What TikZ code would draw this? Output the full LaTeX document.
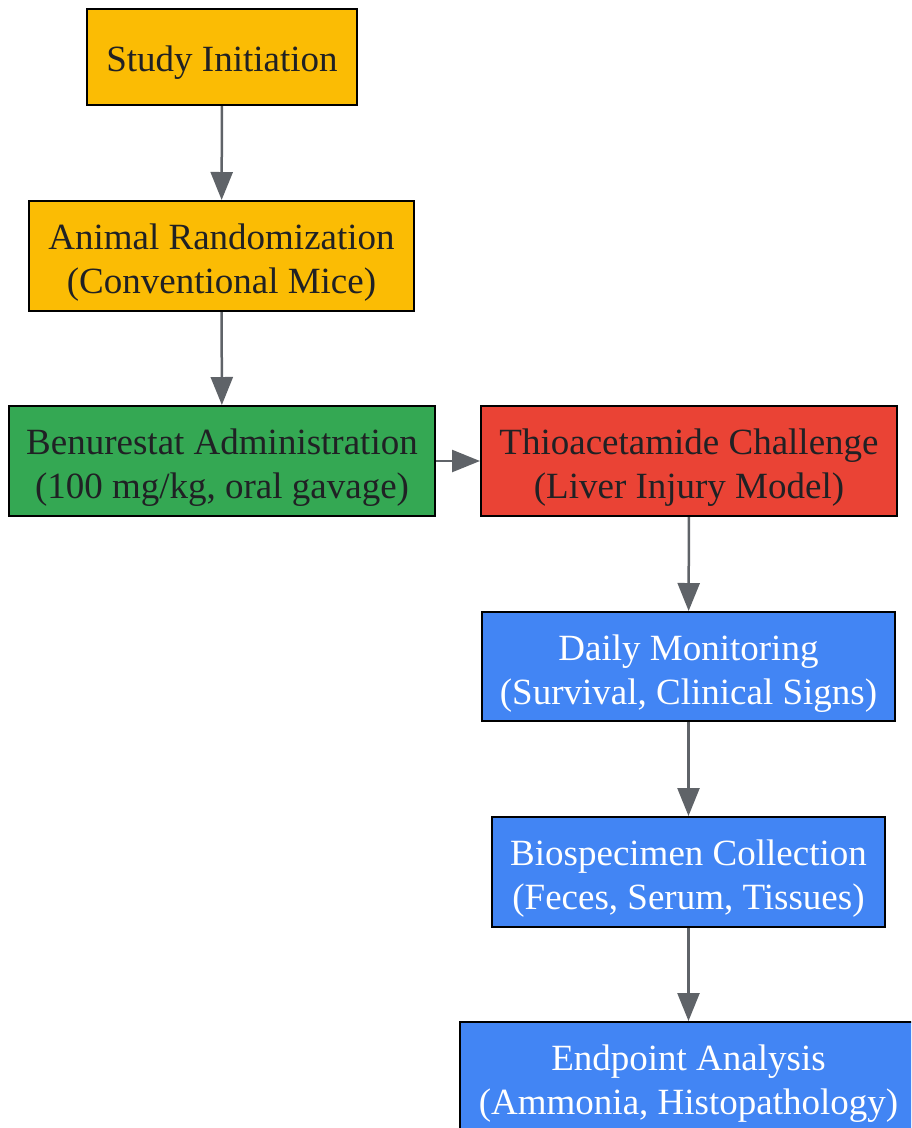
\documentclass[tikz,border=0pt]{standalone}
\usepackage{fontspec}
\setmainfont{Liberation Serif}
\usetikzlibrary{arrows.meta}
\definecolor{stepyellow}{HTML}{FBBC04}
\definecolor{stepgreen}{HTML}{34A853}
\definecolor{stepred}{HTML}{EA4335}
\definecolor{stepblue}{HTML}{4285F4}
\definecolor{textdark}{HTML}{202124}
\definecolor{arrowgray}{HTML}{5F6368}
% two centred lines, first one pushed a bit lower
\newcommand{\steptext}[2]{\begin{tabular}{@{}c@{}}\rule{0pt}{45pt}#1\\#2\end{tabular}}
\tikzset{
  box/.style={draw=black, line width=2pt, inner sep=0pt,
    font=\fontsize{37}{44}\selectfont, text=textdark},
  onebox/.style={box, execute at begin node={\rule{0pt}{36pt}},
    execute at end node={\rule[-8pt]{0pt}{8pt}}},
  twobox/.style={box, minimum height=110pt},
  flow/.style={draw=arrowgray, line width=2.5pt,
    -{Triangle[length=28pt,width=22pt]}}
}

\begin{document}
\begin{tikzpicture}[x=1pt,y=-1pt]
\useasboundingbox (0,0) rectangle (911,1128);
\clip (0,0) rectangle (911,1128);
\node[onebox, fill=stepyellow, minimum width=270pt, minimum height=96pt] (init) at (222,57) {Study Initiation};
\node[twobox, fill=stepyellow, minimum width=385pt] (random) at (221.5,256) {\steptext{Animal Randomization}{(Conventional Mice)}};
\node[twobox, fill=stepgreen, minimum width=426pt] (drug) at (222,461) {\steptext{Benurestat Administration}{(100 mg/kg, oral gavage)}};
\node[twobox, fill=stepred, minimum width=416pt] (taa) at (689,461) {\steptext{Thioacetamide Challenge}{(Liver Injury Model)}};
\node[twobox, fill=stepblue, text=white, minimum width=413pt, minimum height=109pt] (monitor) at (688.5,666.5) {\steptext{Daily Monitoring}{(Survival, Clinical Signs)}};
\node[twobox, fill=stepblue, text=white, minimum width=393pt] (collect) at (688.5,872) {\steptext{Biospecimen Collection}{(Feces, Serum, Tissues)}};
\node[twobox, fill=stepblue, text=white, minimum width=457pt] (endpoint) at (688.5,1077) {\steptext{Endpoint Analysis}{(Ammonia, Histopathology)}};

\draw[flow] (init) -- (random);
\draw[flow] (random) -- (drug);
\draw[flow] (drug) -- (taa);
\draw[flow] (taa) -- (monitor);
\draw[flow] (monitor) -- (collect);
\draw[flow] (collect) -- (endpoint);
\end{tikzpicture}
\end{document}
